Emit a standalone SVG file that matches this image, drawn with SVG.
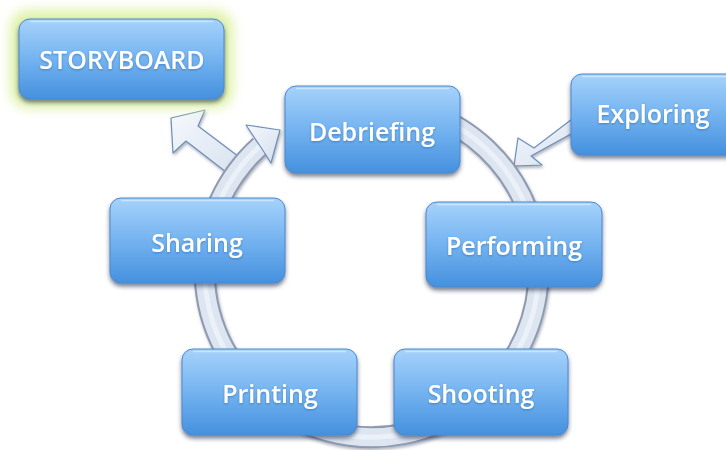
<svg xmlns="http://www.w3.org/2000/svg" width="726" height="450" viewBox="0 0 726 450">
  <defs>
    <linearGradient id="boxFill" x1="0" y1="0" x2="0" y2="1">
      <stop offset="0" stop-color="#a6d2fb"/>
      <stop offset="0.5" stop-color="#74b3f0"/>
      <stop offset="1" stop-color="#4590de"/>
    </linearGradient>
    <linearGradient id="arrowFill" x1="0" y1="0" x2="1" y2="1">
      <stop offset="0" stop-color="#f6f9fd"/>
      <stop offset="1" stop-color="#d3deed"/>
    </linearGradient>
    <filter id="shadow" x="-20%" y="-20%" width="140%" height="150%">
      <feDropShadow dx="0" dy="3" stdDeviation="2" flood-color="#1b2c46" flood-opacity="0.6"/>
    </filter>
    <filter id="softShadow" x="-20%" y="-20%" width="140%" height="140%">
      <feDropShadow dx="1" dy="2" stdDeviation="1.5" flood-color="#4a5870" flood-opacity="0.45"/>
    </filter>
    <filter id="textShade" x="-10%" y="-20%" width="120%" height="140%">
      <feDropShadow dx="0" dy="1" stdDeviation="0.8" flood-color="#1e4f8c" flood-opacity="0.45"/>
    </filter>
    <filter id="glow" x="-30%" y="-40%" width="160%" height="180%">
      <feGaussianBlur stdDeviation="6"/>
    </filter>
  </defs>
  <style>
    .box { fill: url(#boxFill); stroke: #4a88cf; stroke-width: 1; filter: url(#shadow); }
    .gloss { fill: none; stroke: #d3e9ff; stroke-width: 1.5; opacity: 0.85; }
    .label { font-family: "Open Sans", "Noto Sans", sans-serif; font-weight: 600; fill: #ffffff; text-anchor: middle; font-size: 25px; filter: url(#textShade); }
    .ringEdge { fill: none; stroke: #8e9ab0; stroke-width: 22; }
    .ringBody { fill: none; stroke: #dde5f1; stroke-width: 18; }
    .ringHi { fill: none; stroke: #f5f8fd; stroke-width: 5; }
    .block { fill: url(#arrowFill); stroke: #6f8fb8; stroke-width: 1.2; stroke-linejoin: round; filter: url(#softShadow); }
  </style>

  <!-- connectors: the cycle ring and the two side arrows -->
  <g id="connectors">
    <!-- arrow from the cycle out to STORYBOARD -->
    <path class="block" d="M 251 166 L 198 126 L 205 110 L 171 118 L 173 153 L 186 141 L 239 182 Z"/>
    <!-- arrow from Exploring into the cycle -->
    <path class="block" d="M 580 113 L 534 148 L 518 138 L 514 166 L 542 165 L 531 156 L 589 124 Z"/>
    <!-- cycle ring, clockwise, ending in a head at Debriefing -->
    <g filter="url(#softShadow)">
      <path class="ringEdge" d="M 428 113 A 167 167 0 1 1 260 146"/>
      <path class="ringBody" d="M 428 113 A 167 167 0 1 1 260 146"/>
      <path class="ringHi" d="M 428 113 A 167 167 0 1 1 260 146" opacity="0.6"/>
      <path class="block" style="filter:none" d="M 280 130 L 246 125 L 254 137 L 264 152 L 271 163 Z"/>
    </g>
  </g>

  <g id="storyboard">
    <rect x="10" y="10" width="223" height="98" rx="18" fill="#dff2a8" filter="url(#glow)"/>
    <rect class="box" x="19" y="19" width="205" height="80" rx="11"/>
    <path class="gloss" d="M 30 21.5 H 213"/>
    <text class="label" x="122" y="69" font-size="22">STORYBOARD</text>
  </g>

  <g id="debriefing">
    <rect class="box" x="285" y="86" width="175" height="87" rx="11"/>
    <path class="gloss" d="M 296 88.5 H 449"/>
    <text class="label" x="372" y="141">Debriefing</text>
  </g>

  <g id="exploring">
    <rect class="box" x="571" y="74" width="175" height="81" rx="11"/>
    <path class="gloss" d="M 582 76.5 H 740"/>
    <text class="label" x="653" y="123">Exploring</text>
  </g>

  <g id="performing">
    <rect class="box" x="426" y="202" width="176" height="85" rx="11"/>
    <path class="gloss" d="M 437 204.5 H 591"/>
    <text class="label" x="514" y="255">Performing</text>
  </g>

  <g id="sharing">
    <rect class="box" x="110" y="198" width="175" height="85" rx="11"/>
    <path class="gloss" d="M 121 200.5 H 274"/>
    <text class="label" x="197" y="252">Sharing</text>
  </g>

  <g id="printing">
    <rect class="box" x="182" y="349" width="175" height="86" rx="11"/>
    <path class="gloss" d="M 193 351.5 H 346"/>
    <text class="label" x="270" y="403">Printing</text>
  </g>

  <g id="shooting">
    <rect class="box" x="394" y="349" width="174" height="86" rx="11"/>
    <path class="gloss" d="M 405 351.5 H 557"/>
    <text class="label" x="481" y="403">Shooting</text>
  </g>
</svg>
